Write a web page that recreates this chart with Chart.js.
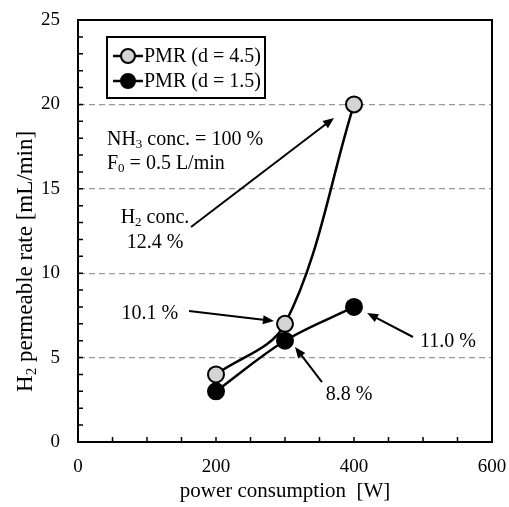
<!DOCTYPE html>
<html>
<head>
<meta charset="utf-8">
<script src="https://cdn.jsdelivr.net/npm/chart.js@4/dist/chart.umd.min.js"></script>
<style>
	html, body { margin: 0; padding: 0; background: #fff; }
	#wrap { width: 509px; height: 507px; }
</style>
</head>
<body>
<div id="wrap"><canvas id="rateChart" width="509" height="507"></canvas></div>
<script>
// данные
const powerW = [200, 300, 400]
const rateD45 = [4, 7, 20]
const rateD15 = [3, 6, 8]
const seriesNames = ['PMR (d = 4.5)', 'PMR (d = 1.5)']
const yTitle = [['H', ''], ['2', 'sub'], [' permeable rate [mL/min]', '']]

const serif = "'Liberation Serif', 'Times New Roman', serif"

// подписи со стрелками (в координатах данных)
const notes = [
	{ lines: [[['NH', ''], ['3', 'sub'], [' conc. = 100 %', '']], [['F', ''], ['0', 'sub'], [' = 0.5 L/min', '']]], x: 42, y: [17.9, 16.5], align: 'left' },
	{ lines: [[['H', ''], ['2', 'sub'], [' conc.', '']], [['12.4 %', '']]], x: 111.6, y: [13.3, 11.8], align: 'center',
		arrow: [163.8, 12.74, 371, 19.2] },
	{ lines: [[['10.1 %', '']]], x: 104, y: [7.58], align: 'center', arrow: [161, 7.76, 284, 7.17] },
	{ lines: [[['11.0 %', '']]], x: 536, y: [5.92], align: 'center', arrow: [485.5, 6.22, 419, 7.64] },
	{ lines: [[['8.8 %', '']]], x: 393, y: [2.78], align: 'center', arrow: [353.6, 3.55, 314.5, 5.63] },
]

function drawRich(ctx, parts, x, y, align, size) {
	const subSize = Math.round(size * 0.65)
	let w = 0
	parts.forEach(p => {
		ctx.font = (p[1] === 'sub' ? subSize : size) + 'px ' + serif
		w += ctx.measureText(p[0]).width
	})
	let cx = align === 'center' ? x - w / 2 : x
	parts.forEach(p => {
		const sub = p[1] === 'sub'
		ctx.font = (sub ? subSize : size) + 'px ' + serif
		ctx.fillText(p[0], cx, sub ? y + size * 0.25 : y)
		cx += ctx.measureText(p[0]).width
	})
}

function arrow(ctx, x1, y1, x2, y2) {
	const a = Math.atan2(y2 - y1, x2 - x1)
	const len = 11, half = 4.5
	ctx.beginPath()
	ctx.moveTo(x1, y1)
	ctx.lineTo(x2 - Math.cos(a) * len * 0.8, y2 - Math.sin(a) * len * 0.8)
	ctx.lineWidth = 2
	ctx.strokeStyle = '#000'
	ctx.stroke()
	ctx.beginPath()
	ctx.moveTo(x2, y2)
	ctx.lineTo(x2 - Math.cos(a) * len - Math.sin(a) * half, y2 - Math.sin(a) * len + Math.cos(a) * half)
	ctx.lineTo(x2 - Math.cos(a) * len + Math.sin(a) * half, y2 - Math.sin(a) * len - Math.cos(a) * half)
	ctx.closePath()
	ctx.fillStyle = '#000'
	ctx.fill()
}

const framePlugin = {
	id: 'frame',
	afterDatasetsDraw(chart) {
		const { ctx, chartArea: a, scales } = chart
		const xs = scales.x, ys = scales.y
		ctx.save()
		// рамка
		ctx.strokeStyle = '#000'
		ctx.lineWidth = 2
		ctx.strokeRect(a.left, a.top, a.right - a.left, a.bottom - a.top)
		// внутренние засечки
		ctx.lineWidth = 1.5
		ctx.beginPath()
		for (let v = 50; v < 600; v += 50) {
			const px = xs.getPixelForValue(v)
			ctx.moveTo(px, a.bottom)
			ctx.lineTo(px, a.bottom - 5)
		}
		for (let v = 1; v < 25; v += 1) {
			const py = ys.getPixelForValue(v)
			ctx.moveTo(a.left, py)
			ctx.lineTo(a.left + 5, py)
		}
		ctx.stroke()

		// подписи
		ctx.fillStyle = '#000'
		ctx.textBaseline = 'middle'
		ctx.textAlign = 'left'
		notes.forEach(n => {
			n.lines.forEach((ln, i) => {
				drawRich(ctx, ln, xs.getPixelForValue(n.x), ys.getPixelForValue(n.y[i]), n.align, 20)
			})
			if (n.arrow) {
				const [x1, y1, x2, y2] = n.arrow
				arrow(ctx, xs.getPixelForValue(x1), ys.getPixelForValue(y1), xs.getPixelForValue(x2), ys.getPixelForValue(y2))
			}
		})

		// заголовок оси Y
		ctx.save()
		ctx.translate(26, ys.getPixelForValue(10.7))
		ctx.rotate(-Math.PI / 2)
		ctx.fillStyle = '#000'
		drawRich(ctx, yTitle, 0, 0, 'center', 23)
		ctx.restore()

		// легенда
		const lx = 107, ly = 37, lw = 158, lh = 61
		ctx.fillStyle = '#fff'
		ctx.fillRect(lx, ly, lw, lh)
		ctx.lineWidth = 2
		ctx.strokeStyle = '#000'
		ctx.strokeRect(lx, ly, lw, lh)
		chart.data.datasets.forEach((ds, i) => {
			const y = ly + 19 + i * 25
			ctx.beginPath()
			ctx.moveTo(lx + 6, y)
			ctx.lineTo(lx + 36, y)
			ctx.lineWidth = 2.5
			ctx.strokeStyle = '#000'
			ctx.stroke()
			ctx.beginPath()
			ctx.arc(lx + 21, y, 7, 0, Math.PI * 2)
			ctx.fillStyle = ds.pointBackgroundColor
			ctx.fill()
			ctx.lineWidth = 2
			ctx.stroke()
			ctx.fillStyle = '#000'
			ctx.font = '20px ' + serif
			ctx.textAlign = 'left'
			ctx.fillText(ds.label, lx + 37, y + 1)
		})
		ctx.restore()
	},
}

new Chart(document.getElementById('rateChart').getContext('2d'), {
	type: 'line',
	data: {
		labels: powerW,
		datasets: [
			{
				label: seriesNames[0],
				data: powerW.map((x, i) => ({ x, y: rateD45[i] })),
				borderColor: '#000',
				borderWidth: 2.5,
				pointBackgroundColor: '#d4d4d4',
				pointBorderColor: '#000',
				pointBorderWidth: 2,
				pointRadius: 8,
				tension: 0.35,
			},
			{
				label: seriesNames[1],
				data: powerW.map((x, i) => ({ x, y: rateD15[i] })),
				borderColor: '#000',
				borderWidth: 2.5,
				pointBackgroundColor: '#000',
				pointBorderColor: '#000',
				pointBorderWidth: 2,
				pointRadius: 8,
				tension: 0.35,
			},
		],
	},
	options: {
		responsive: false,
		animation: false,
		clip: false,
		layout: { padding: { left: 0, top: 20, right: 17, bottom: 0 } },
		plugins: {
			legend: { display: false },
			tooltip: { enabled: false },
		},
		scales: {
			x: {
				type: 'linear',
				min: 0,
				max: 600,
				afterFit: s => { s.height = 65; s.paddingLeft = 0; s.paddingRight = 0 },
				ticks: { stepSize: 200, color: '#000', padding: 14, font: { family: serif, size: 19 } },
				grid: { display: false, drawTicks: false },
				border: { color: '#000', width: 2 },
				title: { display: true, text: 'power consumption  [W]', color: '#000', font: { family: serif, size: 21 }, padding: { top: 4, bottom: 3 } },
			},
			y: {
				min: 0,
				max: 25,
				afterFit: s => { s.width = 78; s.paddingTop = 0; s.paddingBottom = 0 },
				ticks: { stepSize: 5, color: '#000', padding: 18, font: { family: serif, size: 19 } },
				grid: {
					drawTicks: false,
					color: c => (c.tick.value > 0 && c.tick.value < 25 ? '#999' : 'rgba(0,0,0,0)'),
					lineWidth: 1.2,
				},
				border: { display: true, color: '#000', width: 2, dash: [6, 4] },
				title: { display: false },
			},
		},
	},
	plugins: [framePlugin],
})
</script>
</body>
</html>
